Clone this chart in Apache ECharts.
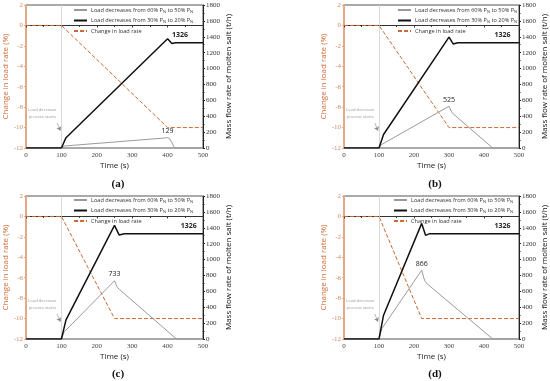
<!DOCTYPE html>
<html><head><meta charset="utf-8">
<script src="https://cdn.jsdelivr.net/npm/echarts@6/dist/echarts.min.js"></script>
<style>html,body{margin:0;padding:0;background:#fff}#c{width:550px;height:381px}</style>
</head><body><div id="c"></div>
<script>
// ---- data ----
const panelLabels = ['(a)', '(b)', '(c)', '(d)'];
const seriesNames = ['Load decreases from 60% P_N to 50% P_N', 'Load decreases from 30% P_N to 20% P_N', 'Change in load rate'];
const peakLabels = ['129', '525', '733', '866'];
const steadyLabel = '1326';

const loadT_a = [0, 100, 400, 500], loadV_a = [0, 0, -10, -10];
const blackT_a = [0, 100, 113, 400, 412, 422, 500], blackV_a = [0, 0, 130, 1375, 1315, 1326, 1326];
const greyT_a = [0, 100, 108, 400, 406, 420, 500], greyV_a = [0, 0, 25, 129, 118, 0, 0];

const loadT_b = [0, 100, 300, 500], loadV_b = [0, 0, -10, -10];
const blackT_b = [0, 100, 113, 300, 312, 325, 500], blackV_b = [0, 0, 170, 1395, 1310, 1326, 1326];
const greyT_b = [0, 100, 106, 300, 307, 312, 425, 500], greyV_b = [0, 0, 40, 525, 460, 430, 0, 0];

const loadT_c = [0, 100, 250, 500], loadV_c = [0, 0, -10, -10];
const blackT_c = [0, 100, 113, 250, 263, 278, 500], blackV_c = [0, 0, 240, 1430, 1310, 1326, 1326];
const greyT_c = [0, 100, 108, 250, 258, 265, 425, 500], greyV_c = [0, 0, 90, 733, 650, 620, 0, 0];

const loadT_d = [0, 100, 222, 500], loadV_d = [0, 0, -10, -10];
const blackT_d = [0, 100, 113, 222, 233, 245, 500], blackV_d = [0, 0, 300, 1455, 1305, 1326, 1326];
const greyT_d = [0, 100, 108, 222, 230, 236, 425, 500], greyV_d = [0, 0, 130, 866, 740, 700, 0, 0];

const peakT = [400, 300, 250, 222];
const peakV = [129, 525, 733, 866];
const steadyT = [435, 453, 460, 453];
const steadyV = [1326, 1326, 1326, 1326];
const startT = 100;

const panels = [
  {lt: loadT_a, lv: loadV_a, bt: blackT_a, bv: blackV_a, gt: greyT_a, gv: greyV_a},
  {lt: loadT_b, lv: loadV_b, bt: blackT_b, bv: blackV_b, gt: greyT_b, gv: greyV_b},
  {lt: loadT_c, lv: loadV_c, bt: blackT_c, bv: blackV_c, gt: greyT_c, gv: greyV_c},
  {lt: loadT_d, lv: loadV_d, bt: blackT_d, bv: blackV_d, gt: greyT_d, gv: greyV_d}
];
const zip = (t, v) => t.map((x, i) => [x, v[i]]);

// ---- layout ----
const grids = [
  {left: 26, right: 347, top: 5, bottom: 233},
  {left: 344, right: 28, top: 5, bottom: 233},
  {left: 26, right: 347, top: 196, bottom: 42},
  {left: 344, right: 28, top: 196, bottom: 42}
];
const legendPos = [
  {left: 73, top: 7}, {left: 397, top: 7}, {left: 73, top: 197}, {left: 393, top: 197}
];
const titlePos = [
  {left: 113, top: 174}, {left: 430, top: 174}, {left: 113, top: 364}, {left: 430, top: 364}
];

const ORANGE = '#CC6A35';
const LEFTAX = '#E3A987';
const LEFTTXT = '#C98B66';
const serif = 'Liberation Serif';
const sans = 'Open Sans';

const option = {
  animation: false,
  backgroundColor: '#fff',
  grid: grids.map(g => Object.assign({show: true, borderColor: '#555', borderWidth: 1}, g)),
  title: panelLabels.map((t, i) => ({
    text: t, left: titlePos[i].left, top: titlePos[i].top, textAlign: 'center',
    textStyle: {fontFamily: serif, fontWeight: 'bold', fontSize: 11, color: '#111'}
  })),
  legend: legendPos.map(p => ({
    left: p.left, top: p.top, orient: 'vertical', itemWidth: 13, itemHeight: 5, itemGap: 4, padding: 0,
    data: seriesNames, selectedMode: false,
    itemStyle: {opacity: 0},
    formatter: n => n.replace(/P_N/g, 'P{sub|N}'),
    textStyle: {fontFamily: sans, fontSize: 5.6, color: '#333', padding: [0, 0, 0, -1],
      rich: {sub: {fontSize: 4, verticalAlign: 'bottom', padding: [3, 0, 0, 0], fontFamily: sans, color: '#333'}}}
  })),
  xAxis: grids.map((g, i) => ({
    gridIndex: i, type: 'value', min: 0, max: 500, interval: 100,
    name: 'Time (s)', nameLocation: 'middle', nameGap: 14,
    nameTextStyle: {fontFamily: sans, fontSize: 8, color: '#222'},
    axisLine: {lineStyle: {color: '#333', width: 1}},
    axisTick: {show: true, length: 2, lineStyle: {color: '#333'}},
    minorTick: {show: true, splitNumber: 2, length: 1.5},
    axisLabel: {fontFamily: serif, fontSize: 7, color: '#444', margin: 4},
    splitLine: {show: false}
  })),
  yAxis: [].concat(...grids.map((g, i) => ([
    {gridIndex: i, type: 'value', position: 'left', min: -12, max: 2, interval: 2,
      name: 'Change in load rate (%)', nameLocation: 'middle', nameGap: 16, nameRotate: 90,
      nameTextStyle: {fontFamily: sans, fontSize: 8, color: ORANGE},
      axisLine: {show: true, lineStyle: {color: LEFTAX, width: 2}},
      axisTick: {show: true, length: 2, lineStyle: {color: LEFTAX}},
      axisLabel: {fontFamily: serif, fontSize: 7, color: LEFTTXT, margin: 3},
      splitLine: {show: false}},
    {gridIndex: i, type: 'value', position: 'right', min: 0, max: 1800, interval: 200,
      name: 'Mass flow rate of molten salt (t/h)', nameLocation: 'middle', nameGap: 22, nameRotate: 90,
      nameTextStyle: {fontFamily: sans, fontSize: 8, color: '#111'},
      axisLine: {show: true, lineStyle: {color: '#222', width: 1}},
      axisTick: {show: true, length: 2, lineStyle: {color: '#222'}},
      minorTick: {show: true, splitNumber: 2, length: 1.5},
      axisLabel: {fontFamily: serif, fontSize: 7, color: '#333', margin: 3, formatter: v => String(v)},
      splitLine: {show: false}}
  ]))),
  series: [].concat(...panels.map((p, i) => ([
    {name: seriesNames[2], type: 'line', xAxisIndex: i, yAxisIndex: 2 * i, data: zip(p.lt, p.lv),
      symbol: 'none', z: 3, lineStyle: {color: ORANGE, width: 1, type: [4, 2]}, itemStyle: {color: ORANGE},
      markLine: {silent: true, symbol: ['none', 'none'], label: {show: false},
        data: [
          [{coord: [startT, -12], lineStyle: {color: '#d0d0d0', width: 0.8, type: 'solid'}}, {coord: [startT, 2]}],
          [{coord: [88, -9.55], symbol: 'none', lineStyle: {color: '#888', width: 0.6, type: 'solid'}}, {coord: [97, -10.3], symbol: 'arrow', symbolSize: 4}]
        ]},
      markPoint: {silent: true, symbol: 'circle', symbolSize: 0,
        data: [{coord: [46, -8.6], label: {show: true, position: 'inside', formatter: 'Load decrease\nprocess starts',
          fontFamily: sans, fontSize: 4.2, color: '#999', lineHeight: 7, align: 'center'}}]}
    },
    {name: seriesNames[0], type: 'line', xAxisIndex: i, yAxisIndex: 2 * i + 1, data: zip(p.gt, p.gv),
      symbol: 'none', z: 4, lineStyle: {color: '#9a9a9a', width: 1}, itemStyle: {color: '#9a9a9a'},
      markPoint: {silent: true, symbol: 'circle', symbolSize: 0,
        data: [{coord: [peakT[i], peakV[i]], label: {show: true, position: 'top', distance: 3, formatter: peakLabels[i],
          fontFamily: sans, fontSize: 7, color: '#222'}}]}
    },
    {name: seriesNames[1], type: 'line', xAxisIndex: i, yAxisIndex: 2 * i + 1, data: zip(p.bt, p.bv),
      symbol: 'none', z: 5, lineStyle: {color: '#111', width: 1.5}, itemStyle: {color: '#111'},
      markPoint: {silent: true, symbol: 'circle', symbolSize: 0,
        data: [{coord: [steadyT[i], steadyV[i]], label: {show: true, position: 'top', distance: 4, formatter: steadyLabel,
          fontFamily: sans, fontSize: 7, fontWeight: 'bold', color: '#222'}}]}
    }
  ])))
};
const chart = echarts.init(document.getElementById('c'), null, {renderer: 'canvas'});
chart.setOption(option);
</script></body></html>
